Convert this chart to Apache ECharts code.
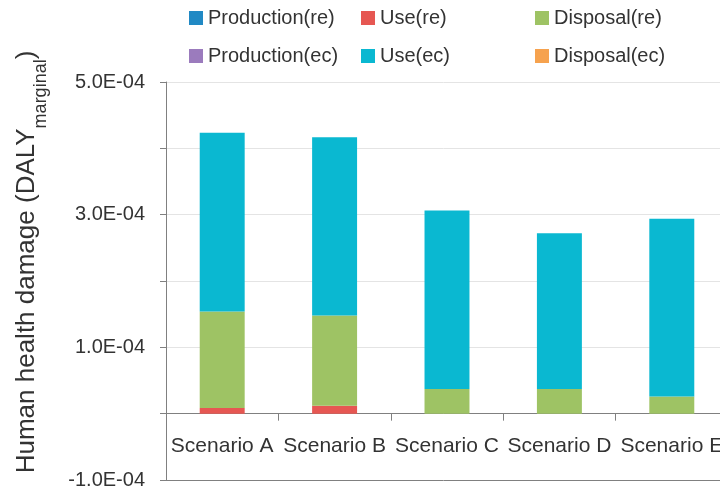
<!DOCTYPE html>
<html>
<head>
<meta charset="utf-8">
<script src="https://cdn.jsdelivr.net/npm/echarts@6/dist/echarts.min.js"></script>
<style>
  html, body { margin: 0; padding: 0; background: #fff; }
  #chart { width: 720px; height: 488px; }
</style>
</head>
<body>
<div id="chart"></div>
<script>
// Scenarios on the category axis
const categories = ['Scenario A', 'Scenario B', 'Scenario C', 'Scenario D', 'Scenario E'];

// Human health damage per life-cycle stage (DALY, marginal)
const productionRe = [0, 0, 0, 0, 0];
const useRe        = [8.6e-6, 1.2e-5, 0, 0, 0];
const disposalRe   = [1.454e-4, 1.36e-4, 3.72e-5, 3.72e-5, 2.6e-5];
const productionEc = [0, 0, 0, 0, 0];
const useEc        = [2.696e-4, 2.687e-4, 2.69e-4, 2.349e-4, 2.68e-4];
const disposalEc   = [0, 0, 0, 0, 0];

// Labelled ticks on the value axis
const yTickLabels = ['-1.0E-04', '1.0E-04', '3.0E-04', '5.0E-04'];
const yMin = -1e-4, yMax = 5e-4, yStep = 1e-4;

const seriesNames = ['Production(re)', 'Use(re)', 'Disposal(re)', 'Production(ec)', 'Use(ec)', 'Disposal(ec)'];
const seriesData = [productionRe, useRe, disposalRe, productionEc, useEc, disposalEc];
const seriesColors = ['#2189C4', '#E65752', '#9EC364', '#9B7BBD', '#0AB8D1', '#F6A24E'];

const FONT = '"Liberation Sans", Arial, sans-serif';
const TEXT = '#333333';
const AXIS = '#808080';

const W = 720, H = 488;
const grid = { left: 166, right: -8, top: 82, bottom: 8 };
const plotH = H - grid.top - grid.bottom;
// category axis sits on the zero line, labels hang below it
const zeroOffset = -plotH * (0 - yMin) / (yMax - yMin);

function sciLabel(v) {
  const s = Number(v).toExponential(1);          // e.g. "5.0e-4"
  const m = s.match(/^(-?\d\.\d)e([+-])(\d+)$/);
  const out = m[1] + 'E' + m[2] + m[3].padStart(2, '0');
  return yTickLabels.indexOf(out) >= 0 ? out : '';
}

// One vertical legend per column: (re) above, (ec) below
const legendCols = [
  { left: 189, names: ['Production(re)', 'Production(ec)'] },
  { left: 361, names: ['Use(re)', 'Use(ec)'] },
  { left: 535, names: ['Disposal(re)', 'Disposal(ec)'] }
];

const chart = echarts.init(document.getElementById('chart'), null, { renderer: 'canvas' });

chart.setOption({
  animation: false,
  backgroundColor: '#ffffff',
  color: seriesColors,
  legend: legendCols.map(c => ({
    orient: 'vertical',
    left: c.left,
    top: 8,
    padding: 0,
    itemGap: 18,
    itemWidth: 14,
    itemHeight: 14,
    icon: 'rect',
    data: c.names,
    textStyle: { fontFamily: FONT, fontSize: 20, color: TEXT }
  })),
  grid: Object.assign({ containLabel: false, outerBoundsMode: 'none' }, grid),
  xAxis: {
    type: 'category',
    data: categories,
    position: 'bottom',
    offset: zeroOffset,
    axisLine: { onZero: false, lineStyle: { color: AXIS, width: 1 } },
    axisTick: { show: true, length: 7, interval: 0, alignWithLabel: false, lineStyle: { color: AXIS } },
    axisLabel: { interval: 0, margin: 22, fontFamily: FONT, fontSize: 21, color: TEXT },
    splitLine: { show: false }
  },
  yAxis: {
    type: 'value',
    min: yMin,
    max: yMax,
    interval: yStep,
    name: '{m|Human health damage (DALY}{s|marginal}{m|)}',
    nameLocation: 'middle',
    nameGap: 116,
    nameTextStyle: {
      padding: [0, 0, 0, 38],
      rich: {
        m: { fontFamily: FONT, fontSize: 26, lineHeight: 26, color: TEXT, verticalAlign: 'bottom', padding: [0, 0, 10, 0] },
        s: { fontFamily: FONT, fontSize: 18, lineHeight: 18, color: TEXT, verticalAlign: 'bottom' }
      }
    },
    axisLine: { show: true, lineStyle: { color: AXIS, width: 1 } },
    axisTick: { show: true, length: 6, lineStyle: { color: AXIS } },
    axisLabel: { margin: 21, fontFamily: FONT, fontSize: 20, color: TEXT, formatter: sciLabel },
    splitLine: {
      show: true,
      lineStyle: { color: [AXIS, '#e4e4e4', '#e4e4e4', '#e4e4e4', '#e4e4e4', '#e4e4e4', '#e4e4e4'], width: 1 }
    }
  },
  series: seriesNames.map((name, i) => ({
    name: name,
    type: 'bar',
    stack: 'total',
    barWidth: '40%',
    data: seriesData[i],
    itemStyle: { color: seriesColors[i] }
  }))
});
</script>
</body>
</html>
